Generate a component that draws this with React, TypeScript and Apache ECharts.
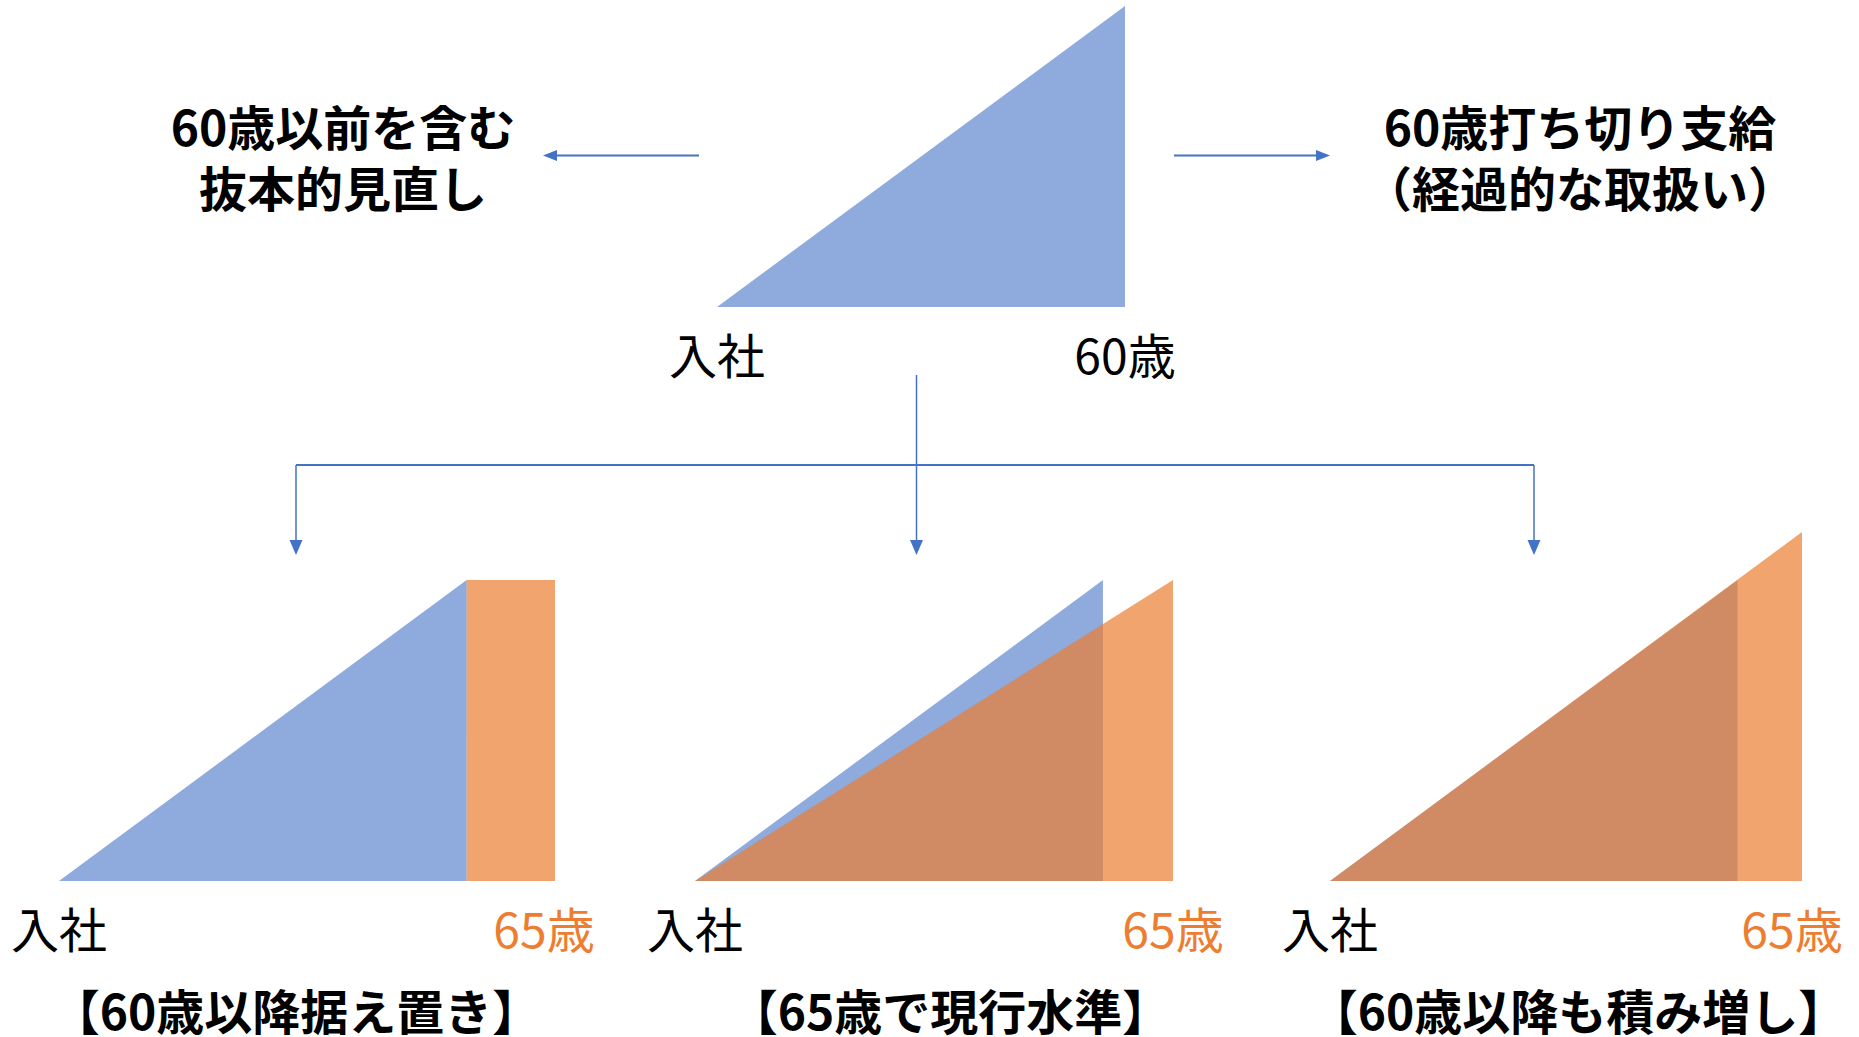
import React, { useEffect, useRef } from "react";
import * as echarts from "echarts";

// ---- data (schematic units: x = 0 at 入社, 60 at the 60歳 point; y = benefit level) ----
const topBlue = [[0, 0], [60, 100]];
const panel1Blue = [[0, 0], [60, 100]];
const panel1Orange = [[60, 100], [73, 100]];
const panel2Blue = [[0, 0], [60, 100]];
const panel2Orange = [[0, 0], [70.3, 100]];
const panel3Blue = [[0, 0], [60, 100]];
const panel3Orange = [[0, 0], [69.5, 116]];

const xEnds = [60, 73, 70.3, 69.5];
const yMaxes = [100, 100, 100, 116];
const startLabel = "入社";
const endLabels = ["60歳", "65歳", "65歳", "65歳"];
const panelTitles = ["【60歳以降据え置き】", "【65歳で現行水準】", "【60歳以降も積み増し】"];
const leftNote = ["60歳以前を含む", "抜本的見直し"];
const rightNote = ["60歳打ち切り支給", "（経過的な取扱い）"];

const BLUE = "#4472C4";
const ORANGE = "#ED7D31";
const FONT = '"Noto Sans CJK JP", "Noto Sans", sans-serif';

// grid layout in pixels
const grids = [
  { left: 717, top: 6, width: 408, height: 301 },
  { left: 59, top: 580, width: 496, height: 301 },
  { left: 695, top: 580, width: 478, height: 301 },
  { left: 1330, top: 532, width: 472, height: 349 },
];
// extra right padding for the end label (shifts it left of the shape's edge)
const endLabelPad = [0, 22, 0, 20];

function areaSeries(data: number[][], idx: number, color: string, opacity: number) {
  return {
    type: "line",
    xAxisIndex: idx,
    yAxisIndex: idx,
    data,
    symbol: "none",
    silent: true,
    lineStyle: { width: 0, opacity: 0 },
    areaStyle: { color, opacity },
    z: color === BLUE ? 2 : 3,
  };
}

export default function App() {
  const ref = useRef<HTMLDivElement>(null);
  useEffect(() => {
    if (!ref.current) return;
    const chart = echarts.init(ref.current, null, { renderer: "svg" });

    const xAxis = grids.map((g, i) => ({
      type: "value",
      gridIndex: i,
      min: 0,
      max: xEnds[i],
      interval: xEnds[i],
      axisLine: { show: false },
      axisTick: { show: false },
      splitLine: { show: false },
      axisLabel: {
        show: true,
        margin: 22,
        showMinLabel: true,
        showMaxLabel: true,
        formatter: (v: number) =>
          v === 0 ? `{k|${startLabel}}` : i === 0 ? `{k|${endLabels[i]}}` : `{o|${endLabels[i]}}`,
        rich: {
          k: { fontSize: 48, fontFamily: FONT, color: "#000" },
          o: {
            fontSize: 48,
            fontFamily: FONT,
            color: ORANGE,
            padding: [0, endLabelPad[i], 0, 0],
          },
        },
      },
    }));
    const yAxis = grids.map((g, i) => ({
      type: "value",
      gridIndex: i,
      min: 0,
      max: yMaxes[i],
      show: false,
      splitLine: { show: false },
    }));

    const series = [
      areaSeries(topBlue, 0, BLUE, 0.6),
      areaSeries(panel1Blue, 1, BLUE, 0.6),
      areaSeries(panel1Orange, 1, ORANGE, 0.7),
      areaSeries(panel2Blue, 2, BLUE, 0.6),
      areaSeries(panel2Orange, 2, ORANGE, 0.7),
      areaSeries(panel3Blue, 3, BLUE, 0.6),
      areaSeries(panel3Orange, 3, ORANGE, 0.7),
    ];

    const line = (x1: number, y1: number, x2: number, y2: number, w: number) => ({
      type: "line",
      shape: { x1, y1, x2, y2 },
      style: { stroke: BLUE, lineWidth: w },
      silent: true,
    });
    const head = (pts: number[][]) => ({
      type: "polygon",
      shape: { points: pts },
      style: { fill: BLUE },
      silent: true,
    });
    const txt = (text: string, x: number, y: number, size: number, lh: number) => ({
      type: "text",
      x,
      y,
      style: {
        text,
        fontSize: size,
        lineHeight: lh,
        fontWeight: "bold",
        fontFamily: FONT,
        fill: "#000",
        align: "center",
        verticalAlign: "middle",
      },
      silent: true,
    });

    const downXs = [296, 916.5, 1534];
    const graphic: any[] = [
      // side arrows
      line(699, 155.5, 556, 155.5, 2),
      head([[543, 155.5], [557, 150], [557, 161]]),
      line(1174, 155.5, 1317, 155.5, 2),
      head([[1330, 155.5], [1316, 150], [1316, 161]]),
      // stem and bar
      line(916.5, 375, 916.5, 465, 1.5),
      line(296, 465, 1534, 465, 2),
      ...downXs.flatMap((x) => [
        line(x, 465, x, 541, 1.5),
        head([[x, 555], [x - 6.5, 540], [x + 6.5, 540]]),
      ]),
      // notes (two lines each)
      txt(leftNote.join("\n"), 343, 155.5, 48, 61),
      txt(rightNote.join("\n"), 1580, 155.5, 48, 61),
      // panel titles
      txt(panelTitles[0], 296, 1009, 48, 48),
      txt(panelTitles[1], 950, 1009, 48, 48),
      txt(panelTitles[2], 1578, 1009, 48, 48),
    ];

    chart.setOption({
      animation: false,
      backgroundColor: "#ffffff",
      grid: grids.map((g) => ({ ...g, containLabel: false })),
      xAxis,
      yAxis,
      series,
      graphic,
    });
    return () => chart.dispose();
  }, []);

  return (
    <div
      ref={ref}
      style={{ position: "fixed", left: 0, top: 0, width: 1859, height: 1037, background: "#fff" }}
    />
  );
}
